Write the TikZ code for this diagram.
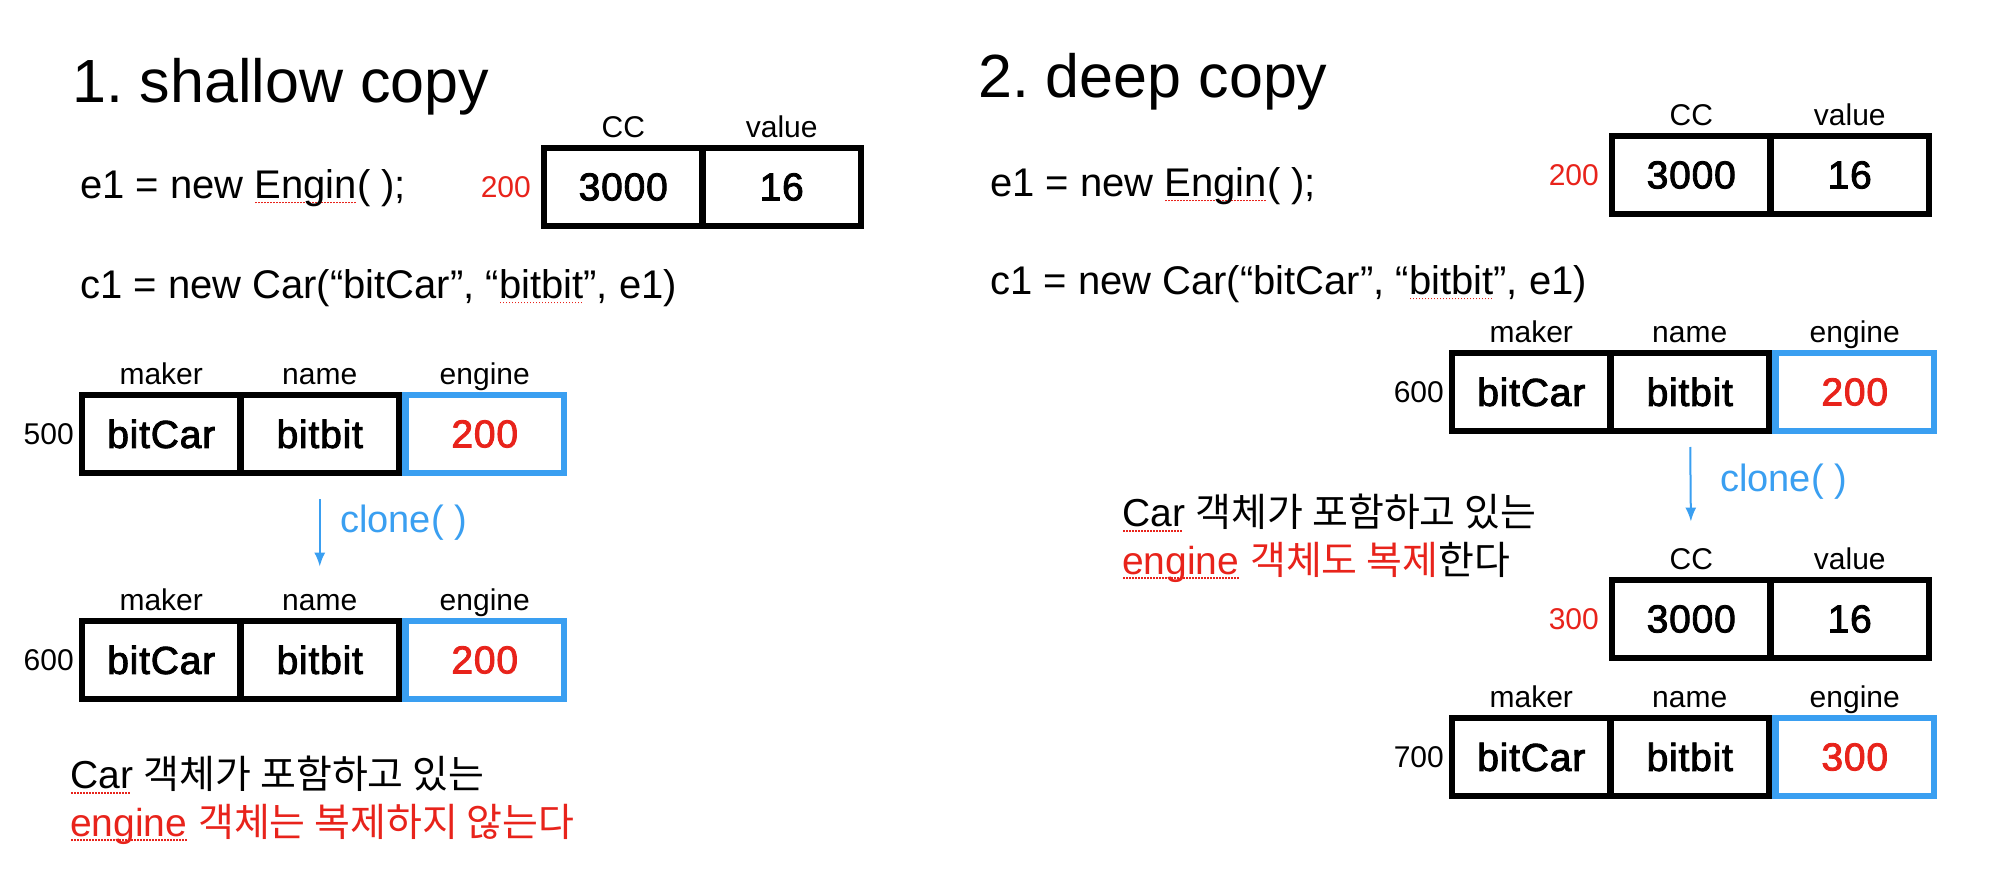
\documentclass[tikz,border=0pt]{standalone}
\usepackage{fontspec}
\setmainfont{Liberation Sans}
\newfontfamily\kr{Noto Sans CJK KR}
\newfontfamily\medfont{Liberation Sans}[FakeBold=2.2, LetterSpace=2]
\usetikzlibrary{arrows.meta,positioning}
\frenchspacing
\definecolor{PtrRed}{HTML}{E8231B}
\definecolor{RefBlue}{HTML}{3A9FF1}
\newcommand\fs[1]{\fontsize{#1}{#1}\selectfont}
\newcommand\spellmark[1]{\setbox0\hbox{#1}\rlap{\color{PtrRed}\leaders\hbox to 3pt{\hss\rule[-5pt]{1.6pt}{1.6pt}\hss}\hskip\wd0}\box0\relax}
\tikzset{
  every picture/.append style={x=1pt, y=-1pt},
  cell/.style={rectangle, draw=black, line width=6.5pt, minimum width=158.5pt, minimum height=78pt,
               inner sep=0pt, outer sep=0pt, font=\medfont\fs{39}},
  refcell/.style={cell, draw=RefBlue, text=PtrRed},
  lab/.style={inner sep=0pt, font=\fs{30}, text height=21pt, text depth=6pt},
  addr/.style={inner sep=0pt, font=\fs{30}},
  code/.style={anchor=west, inner sep=0pt, font=\fs{40}},
  ttl/.style={anchor=base west, inner sep=0pt, font=\fs{61}},
  note/.style={anchor=west, inner sep=0pt, font=\fs{39}},
  clonearr/.style={draw=RefBlue, line width=2pt, -{Latex[length=14pt,width=11pt]}},
  clonelab/.style={anchor=west, inner sep=0pt, text=RefBlue, font=\fs{38}},
}

\begin{document}
\begin{tikzpicture}
\fill[white] (0,0) rectangle (2000,872);
\useasboundingbox (0,0) rectangle (2000,872);

% ---------------- headings and code lines ----------------
\node[ttl] (t1) at (72,103) {1. shallow copy};
\node[ttl] (t2) at (978,98) {2. deep copy};
\node[code] (s-e1) at (80,188) {e1 = new \spellmark{Engin}( );};
\node[code] (s-c1) at (80,288) {c1 = new Car(“bitCar”, “\spellmark{bitbit}”, e1)};
\node[code] (d-e1) at (990,186) {e1 = new \spellmark{Engin}( );};
\node[code] (d-c1) at (990,284) {c1 = new Car(“bitCar”, “\spellmark{bitbit}”, e1)};

% ---------------- engine objects ----------------
\foreach \nm/\x/\y/\addr in {sE/544/187/200, dE/1612/175/200, dF/1612/619/300}{
  \node[cell, anchor=west] (\nm-cc) at (\x,\y) {3000};
  \node[cell, right=0pt of \nm-cc] (\nm-val) {16};
  \node[lab, above=4pt of \nm-cc] (\nm-ccl) {CC};
  \node[lab, above=4pt of \nm-val] {value};
  \node[addr, text=PtrRed, left=13pt of \nm-cc] {\addr};
}

% ---------------- car objects ----------------
\foreach \nm/\x/\y/\addr/\eng in {sA/82/434/500/200, sB/82/660/600/200, dA/1452/392/600/200, dB/1452/757/700/300}{
  \node[cell, anchor=west] (\nm-mk) at (\x,\y) {bitCar};
  \node[cell, right=0pt of \nm-mk] (\nm-nm) {bitbit};
  \node[refcell, right=6.5pt of \nm-nm] (\nm-en) {\eng};
  \node[lab, above=4pt of \nm-mk] {maker};
  \node[lab, above=4pt of \nm-nm] (\nm-nml) {name};
  \node[lab, above=4pt of \nm-en] {engine};
  \node[addr, left=8pt of \nm-mk] {\addr};
}

% ---------------- clone arrows ----------------
\draw[clonearr, shorten <=26pt, shorten >=23pt] (sA-nm) -- (sB-nml);
\node[clonelab] (s-cl) at (340,523) {clone( )};
\draw[clonearr, shorten <=16pt, shorten >=27pt] (dA-nm) -- (dF-ccl);
\node[clonelab] (d-cl) at (1720,482) {clone( )};

% ---------------- notes ----------------
\node[note] (s-n1) at (70,775) {\spellmark{Car} {\kr 객체가 포함하고 있는}};
\node[note, text=PtrRed] (s-n2) at (70,824) {\spellmark{engine} {\kr 객체는 복제하지 않는다}};
\node[note] (d-n1) at (1122,513) {\spellmark{Car} {\kr 객체가 포함하고 있는}};
\node[note] (d-n2) at (1122,562) {{\color{PtrRed}\spellmark{engine} {\kr 객체도 복제}}{\kr 한다}};

\end{tikzpicture}
\end{document}
